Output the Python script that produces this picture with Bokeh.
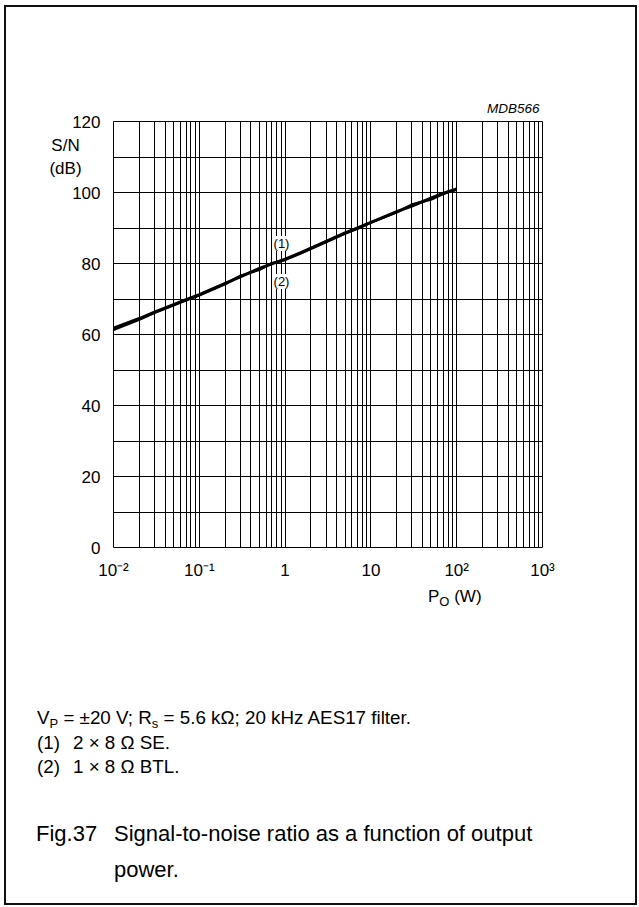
from bokeh.plotting import figure
from bokeh.models import FixedTicker, Label, Range1d, CustomJSTickFormatter, Div
from bokeh.layouts import column
from bokeh.embed import file_html
from bokeh.resources import INLINE

# ---- data ----
power_w = [0.01, 0.02, 0.03, 0.05, 0.07, 0.1, 0.2, 0.3, 0.5, 0.7, 1, 1.5, 2, 3, 5, 7, 10, 20, 30, 50, 70, 100]
sn_se = [61.8, 64.5, 66.3, 68.4, 69.8, 71.2, 74.4, 76.2, 78.6, 79.9, 81.2, 83.0, 84.3, 86.2, 88.6, 90.0, 91.6, 94.6, 96.2, 98.4, 99.8, 101.0]
sn_btl = [61.3, 64.2, 66.1, 68.2, 69.6, 71.0, 74.2, 76.5, 78.2, 80.1, 81.0, 82.8, 84.1, 86.0, 88.4, 89.8, 91.5, 94.4, 96.6, 98.0, 99.6, 100.8]

x_major = [0.01, 0.1, 1, 10, 100, 1000]
x_labels = ["10\u207b\u00b2", "10\u207b\u00b9", "1", "10", "10\u00b2", "10\u00b3"]
x_minor = [m * d for d in [0.01, 0.1, 1, 10, 100] for m in range(2, 10)]
y_major = [0, 20, 40, 60, 80, 100, 120]
y_minor = [10, 30, 50, 70, 90, 110]

FONT = "Liberation Sans"
W = 639
H_TOP = 582
H_BOT = 907 - H_TOP
FL, FT, FR, FB = 113, 121, 542, 548  # frame edges in page pixels
EDGE = "#111"

# ---------------- chart ----------------
p = figure(width=W, height=H_TOP, x_axis_type="log",
           x_range=Range1d(0.01, 1000), y_range=Range1d(0, 120),
           output_backend="svg", toolbar_location=None,
           min_border_left=FL, min_border_right=W - FR,
           min_border_top=FT, min_border_bottom=H_TOP - FB)
p.background_fill_color = "white"
p.border_fill_color = None
p.outline_line_color = "black"
p.outline_line_width = 1
p.styles = {"background-color": "white",
            "box-shadow": (f"inset 4px 0 0 0 white, inset 0 5px 0 0 white, inset -2px 0 0 0 white, "
                           f"inset 6px 0 0 0 {EDGE}, inset 0 7px 0 0 {EDGE}, inset -4px 0 0 0 {EDGE}")}

p.title.text = "MDB566"
p.title.align = "right"
p.title.offset = 3
p.title.text_font = FONT
p.title.text_font_size = "13.5px"
p.title.text_font_style = "italic"
p.title.text_color = "black"
p.title.standoff = 12

p.xaxis.ticker = FixedTicker(ticks=x_major, minor_ticks=x_minor)
p.xaxis.formatter = CustomJSTickFormatter(args=dict(labels=x_labels),
                                          code="return labels[Math.round(Math.log10(tick)) + 2];")
p.yaxis.ticker = FixedTicker(ticks=y_major, minor_ticks=y_minor)
for ax in (p.xaxis[0], p.yaxis[0]):
    ax.axis_line_color = None
    ax.major_tick_line_color = None
    ax.minor_tick_line_color = None
    ax.major_tick_out = 0
    ax.minor_tick_out = 0
    ax.major_label_text_font = FONT
    ax.major_label_text_font_size = "17px"
    ax.major_label_text_color = "black"
p.yaxis.major_label_standoff = 13
p.xaxis.major_label_standoff = 13

for g in (p.xgrid[0], p.ygrid[0]):
    g.grid_line_color = "black"
    g.grid_line_alpha = 1
    g.grid_line_width = 1
    g.minor_grid_line_color = "black"
    g.minor_grid_line_alpha = 1
    g.minor_grid_line_width = 1

p.line(power_w, sn_se, line_width=3, color="black")
p.line(power_w, sn_btl, line_width=2.5, color="black")

# curve labels (inside frame: screen units from frame left / bottom)
for txt, py in (("(1)", 244), ("(2)", 282)):
    p.add_layout(Label(x=281 - FL, y=FB - py, x_units="screen", y_units="screen", text=txt,
                       text_font=FONT, text_font_size="13px", text_align="center",
                       text_baseline="middle", text_color="black",
                       background_fill_color="white"))

# y title, placed in the (empty) right side panel so it is not clipped to the frame
p.add_layout(Label(x=65 - FR, y=FB - 157.5, x_units="screen", y_units="screen",
                   text="S/N\n(dB)", text_font=FONT, text_font_size="17px",
                   text_align="center", text_baseline="middle", text_line_height=1.24,
                   text_color="black"), "right")

# ---------------- x title, notes and caption ----------------
ASC = 0.8465  # baseline offset for line-height = 1em (Liberation Sans)


def span(left, baseline, html, size):
    top = baseline - H_TOP - ASC * size
    return (f'<span style="position:absolute;left:{left}px;top:{top:.1f}px;'
            f'font-size:{size}px;line-height:{size}px;white-space:nowrap;">{html}</span>')


def sub(t, size, drop):
    return (f'<span style="font-size:{size}px;position:relative;top:{drop}px;">{t}</span>')


FN = 18.8
FC = 22
parts = [
    span(428, 602, "P" + sub("O", 13, 4) + " (W)", 17),
    span(37, 725, "V" + sub("P", 13, 4) + " = \u00b120 V; R" + sub("s", 13, 4)
         + " = 5.6 k\u03a9; 20 kHz AES17 filter.", FN),
    span(37, 750, "(1)", FN),
    span(73, 750, "2 \u00d7 8 \u03a9 SE.", FN),
    span(37, 774, "(2)", FN),
    span(73, 774, "1 \u00d7 8 \u03a9 BTL.", FN),
    span(36, 842, "Fig.37", FC),
    span(114, 842, "Signal-to-noise ratio as a function of output", FC),
    span(114, 878, "power.", FC),
]
html = (f'<div style="position:relative;width:{W}px;height:{H_BOT}px;'
        f'font-family:\'Liberation Sans\', Arial, sans-serif;color:black;">'
        + "".join(parts) + "</div>")

notes = Div(text=html, width=W, height=H_BOT, margin=(0, 0, 0, 0),
            styles={"background-color": "white",
                    "box-shadow": (f"inset 4px 0 0 0 white, inset -2px 0 0 0 white, inset 0 -2px 0 0 white, "
                                   f"inset 6px 0 0 0 {EDGE}, inset -4px 0 0 0 {EDGE}, "
                                   f"inset 0 -4px 0 0 {EDGE}")})

page = column(p, notes, spacing=0)

open("out.html", "w").write(file_html(page, INLINE))
